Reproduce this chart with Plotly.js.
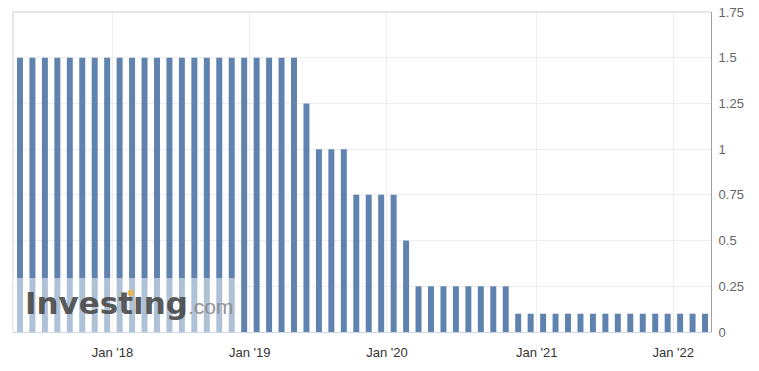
<!DOCTYPE html>
<html>
<head>
<meta charset="utf-8">
<script src="https://cdn.plot.ly/plotly-3.0.1.min.js"></script>
<style>
  html, body { margin: 0; padding: 0; background: #ffffff; }
  #chart { width: 759px; height: 371px; }
</style>
</head>
<body>
<div id="chart"></div>
<script>
// Rate decision dates (one bar per meeting)
var meetingDates = [
  "2017-05-02","2017-06-06","2017-07-04","2017-08-01","2017-09-05","2017-10-03","2017-11-07","2017-12-05",
  "2018-02-06","2018-03-06","2018-04-03","2018-05-01","2018-06-05","2018-07-03","2018-08-07","2018-09-04","2018-10-02","2018-11-06","2018-12-04",
  "2019-02-05","2019-03-05","2019-04-02","2019-05-07","2019-06-04","2019-07-02","2019-08-06","2019-09-03","2019-10-01","2019-11-05","2019-12-03",
  "2020-02-04","2020-03-03","2020-03-19","2020-04-07","2020-05-05","2020-06-02","2020-07-07","2020-08-04","2020-09-01","2020-10-06","2020-11-03","2020-12-01",
  "2021-02-02","2021-03-02","2021-04-06","2021-05-04","2021-06-01","2021-07-06","2021-08-03","2021-09-07","2021-10-05","2021-11-02","2021-12-07",
  "2022-02-01","2022-03-01","2022-04-05"
];
// Rate at each meeting (%)
var rateValues = [
  1.5,1.5,1.5,1.5,1.5,1.5,1.5,1.5,
  1.5,1.5,1.5,1.5,1.5,1.5,1.5,1.5,1.5,1.5,1.5,
  1.5,1.5,1.5,1.5,1.25,1.0,1.0,1.0,0.75,0.75,0.75,
  0.75,0.5,0.25,0.25,0.25,0.25,0.25,0.25,0.25,0.25,0.1,0.1,
  0.1,0.1,0.1,0.1,0.1,0.1,0.1,0.1,0.1,0.1,0.1,
  0.1,0.1,0.1
];
// Tick label years / labels
var tickYears = [2018, 2019, 2020, 2021, 2022];
var tickLabels = ["Jan '18", "Jan '19", "Jan '20", "Jan '21", "Jan '22"];

// Ordinal axis: place Jan 1 labels by time-interpolating between neighbouring meetings
function ordinalPos(dateStr) {
  var t = Date.parse(dateStr + "T00:00:00Z");
  for (var i = 0; i < meetingDates.length - 1; i++) {
    var a = Date.parse(meetingDates[i] + "T00:00:00Z");
    var b = Date.parse(meetingDates[i + 1] + "T00:00:00Z");
    if (t >= a && t <= b) return i + (t - a) / (b - a);
  }
  return null;
}
var tickPos = tickYears.map(function (y) { return ordinalPos(y + "-01-01"); });

var trace = {
  type: "bar",
  x: meetingDates,
  y: rateValues,
  marker: { color: "#5f83ae", line: { width: 0 } },
  hoverinfo: "x+y"
};

var layout = {
  width: 759,
  height: 371,
  margin: { l: 13, r: 48, t: 12, b: 39 },
  paper_bgcolor: "#ffffff",
  plot_bgcolor: "#ffffff",
  bargap: 0.52,
  showlegend: false,
  font: { family: "Liberation Sans, Arial, sans-serif", size: 13, color: "#333333" },
  xaxis: {
    type: "category",
    range: [-0.56, meetingDates.length - 1 + 0.48],
    tickmode: "array",
    tickvals: tickPos,
    ticktext: tickLabels,
    showgrid: true,
    gridcolor: "#eeeeee",
    gridwidth: 1,
    showline: true,
    linecolor: "#ccd6eb",
    linewidth: 1,
    ticks: "",
    tickfont: { size: 13, color: "#333333" },
    ticklabelstandoff: 8,
    zeroline: false,
    fixedrange: true
  },
  yaxis: {
    side: "right",
    range: [0, 1.75],
    dtick: 0.25,
    tick0: 0,
    showgrid: true,
    gridcolor: "#eeeeee",
    gridwidth: 1,
    showline: true,
    linecolor: "#a0a0a0",
    linewidth: 1,
    ticks: "",
    tickfont: { size: 13, color: "#666666" },
    ticklabelstandoff: 4,
    zeroline: false,
    fixedrange: true
  },
  shapes: [
    // chart frame: top and left
    { type: "line", xref: "paper", yref: "paper", x0: 0, x1: 1, y0: 1, y1: 1, line: { color: "#d0d0d0", width: 1 }, layer: "above" },
    { type: "line", xref: "paper", yref: "paper", x0: 0, x1: 0, y0: 0, y1: 1, line: { color: "#d0d0d0", width: 1 }, layer: "above" },
    // watermark backdrop
    { type: "rect", xref: "paper", yref: "paper", x0: 0, x1: 0.3195, y0: 0, y1: 0.169, fillcolor: "#ffffff", opacity: 0.5, line: { width: 0 }, layer: "above" },
    // orange dot of the logo's "i"
    { type: "circle", xref: "paper", yref: "paper", xsizemode: "pixel", ysizemode: "pixel",
      xanchor: 0.1685, yanchor: 0.122, x0: -3.2, x1: 3.2, y0: -3.2, y1: 3.2,
      fillcolor: "#f2b53c", opacity: 0.85, line: { width: 0 }, layer: "above" }
  ],
  annotations: [
    {
      xref: "paper", yref: "paper", x: 0.014, y: 0.09, xanchor: "left", yanchor: "middle",
      showarrow: false,
      text: "<b>Invest\u0131ng</b><span style=\"font-family:'Liberation Sans';font-size:21px;font-weight:normal;color:#8a8a8a\">.com</span>",
      font: { family: "DejaVu Sans", size: 31, color: "#4a4a4a" },
      opacity: 0.9
    }
  ]
};

Plotly.newPlot("chart", [trace], layout, { displayModeBar: false, staticPlot: true });
</script>
</body>
</html>
